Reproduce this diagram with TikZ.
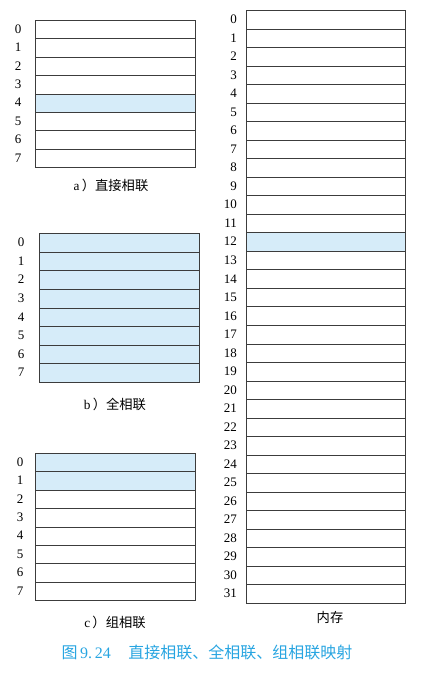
\documentclass[tikz,border=0pt]{standalone}
\usepackage{fontspec}
\setmainfont{Liberation Serif}
\newfontfamily\cjk{Noto Sans CJK SC}
\definecolor{cellblue}{RGB}{214,236,249}
\definecolor{gridline}{RGB}{60,60,60}
\definecolor{capblue}{RGB}{40,165,225}
\begin{document}
\begin{tikzpicture}[x=1pt,y=-1pt,
  cell/.style={draw=gridline,line width=0.6pt,rectangle,inner sep=0pt,anchor=north west,minimum width=#1},
  cell/.default=160pt,
  num/.style={font=\fontsize{13}{13}\selectfont,inner sep=0pt},
  captext/.style={font=\fontsize{13.3}{14}\selectfont,inner sep=0pt},
  figcap/.style={font=\fontsize{16}{16}\selectfont,text=capblue,inner sep=0pt}]
\useasboundingbox (0,0) rectangle (427,675);
% a) direct mapped
\foreach \i in {0,...,7}{
  \pgfmathsetmacro\yy{20+\i*18.375}
  \ifnum\i=4
    \node[cell,fill=cellblue,minimum height=18.375pt] (a\i) at (35,\yy) {};
  \else
    \node[cell,minimum height=18.375pt] (a\i) at (35,\yy) {};
  \fi
  \node[num] (al\i) at (18,\yy+9.2) {\i};
}
\node[captext] (acap) at (111,185) {a\,{\cjk ）直接相联}};
% b) fully associative
\foreach \i in {0,...,7}{
  \pgfmathsetmacro\yy{233+\i*18.625}
  \node[cell,fill=cellblue,minimum height=18.625pt] (b\i) at (39,\yy) {};
  \node[num] (bl\i) at (21,\yy+9.3) {\i};
}
\node[captext] (bcap) at (115,404) {b\,{\cjk ）全相联}};
% c) set associative
\foreach \i in {0,...,7}{
  \pgfmathsetmacro\yy{453+\i*18.375}
  \ifnum\i<2
    \node[cell,fill=cellblue,minimum height=18.375pt] (c\i) at (35,\yy) {};
  \else
    \node[cell,minimum height=18.375pt] (c\i) at (35,\yy) {};
  \fi
  \node[num] (cl\i) at (20,\yy+9.2) {\i};
}
\node[captext] (ccap) at (115,622) {c\,{\cjk ）组相联}};
% memory
\foreach \i in {0,...,31}{
  \pgfmathsetmacro\yy{10+\i*18.53}
  \ifnum\i=12
    \node[cell=159pt,fill=cellblue,minimum height=18.53pt] (m\i) at (246,\yy) {};
  \else
    \node[cell=159pt,minimum height=18.53pt] (m\i) at (246,\yy) {};
  \fi
  \node[num,anchor=east] (ml\i) at (237,\yy+9.3) {\i};
}
\node[captext] (mcap) at (330,617) {\cjk 内存};
% figure caption
\node[figcap] (fig) at (207,652) {{\cjk 图}\,9.\,24\hspace{1.1em}{\cjk 直接相联、全相联、组相联映射}};
\end{tikzpicture}
\end{document}
